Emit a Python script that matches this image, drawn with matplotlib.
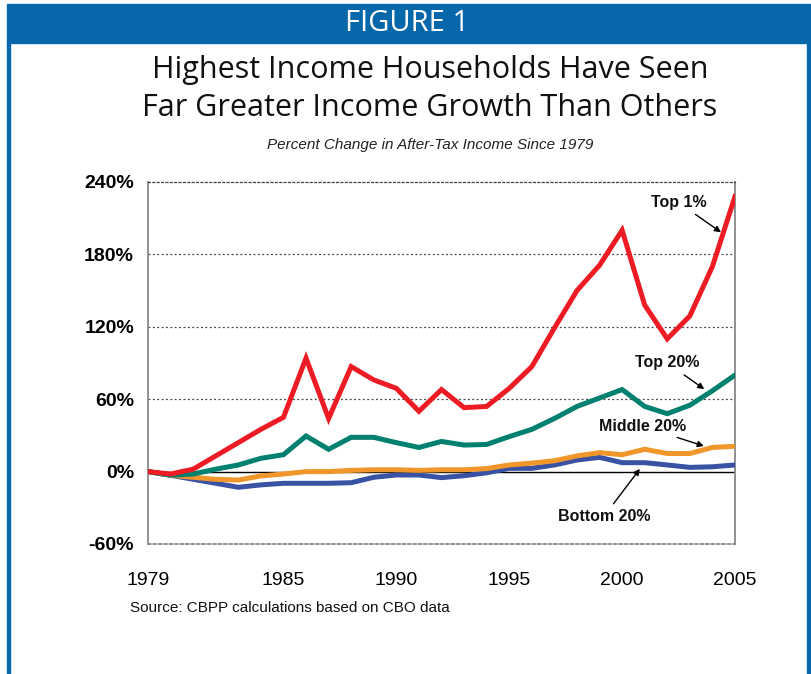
import matplotlib
matplotlib.use("Agg")
import matplotlib.pyplot as plt
from matplotlib.patches import Rectangle

# values (percent change since 1979)
years = list(range(1979, 2006))
top1 = [0, -2, 2, 13, 24, 35, 45, 94, 44, 87, 76, 69, 50, 68, 53, 54,
        69, 87, 119, 150, 171, 200, 138, 110, 129, 170, 228]
top20 = [0, -3, -2, 2, 5.5, 11, 14, 29.5, 18.5, 28.4, 28.4, 24, 20, 25, 22, 22.5,
         29, 35, 44, 54, 61, 68, 54, 48, 55, 67, 80]
middle20 = [0, -3, -4.7, -6.4, -7, -3.6, -2, 0, 0, 1, 1.5, 1.5, 1, 1.5, 1.5, 2.5,
            5.5, 7, 9, 13, 15.7, 14, 18.5, 15, 15, 20, 21]
bottom20 = [0, -3, -6.4, -9.7, -13, -11, -9.7, -9.7, -9.7, -9.2, -4.7, -2.8, -2.8, -5, -3.4, -1,
            2.7, 2.7, 5.5, 9.6, 11.8, 7.4, 7.4, 5.5, 3.5, 4, 5.5]

yticks = [-60, 0, 60, 120, 180, 240]
xticks = [1979, 1985, 1990, 1995, 2000, 2005]

RED = "#ED1C24"
TEAL = "#00806E"
ORANGE = "#F0962A"
BLUE = "#3A52A4"
FRAME = "#0767AB"

fig = plt.figure(figsize=(8.12, 6.74), dpi=100)
W, H = 812, 674


def fx(px):
    return px / W


def fy(py):
    return 1 - py / H


# header bar and blue frame
fig.patches.append(Rectangle((fx(7), fy(43)), fx(805), 39 / H, transform=fig.transFigure,
                             color=FRAME, zorder=0))
fig.patches.append(Rectangle((fx(7), 0), fx(3), fy(43), transform=fig.transFigure,
                             color=FRAME, zorder=0))
fig.patches.append(Rectangle((fx(807), 0), fx(3), fy(43), transform=fig.transFigure,
                             color=FRAME, zorder=0))
fig.text(fx(407), fy(23.5), "FIGURE 1", color="white", fontsize=21, fontweight="medium",
         family="Open Sans", fontstretch="semi-condensed", ha="center", va="center")

fig.text(fx(430), fy(70), "Highest Income Households Have Seen", fontsize=22,
         family="Open Sans", ha="center", va="center", color="#111111")
fig.text(fx(430), fy(108), "Far Greater Income Growth Than Others", fontsize=22,
         family="Open Sans", ha="center", va="center", color="#111111")
fig.text(fx(430), fy(145), "Percent Change in After-Tax Income Since 1979", fontsize=11,
         family="Liberation Sans", style="italic", ha="center", va="center", color="#222222")

ax = fig.add_axes([fx(148), fy(544), fx(735 - 148), (544 - 182) / H])

ax.plot(years, bottom20, color=BLUE, lw=3.6, solid_joinstyle="miter", zorder=3)
ax.plot(years, middle20, color=ORANGE, lw=3.6, solid_joinstyle="miter", zorder=4)
ax.plot(years, top20, color=TEAL, lw=3.6, solid_joinstyle="miter", zorder=5)
ax.plot(years, top1, color=RED, lw=3.6, solid_joinstyle="miter", zorder=6)

ax.set_xlim(1979, 2005)
ax.set_ylim(-60, 240)
ax.set_xticks(xticks)
ax.set_yticks(yticks)
ax.set_yticklabels([f"{v}%" for v in yticks], fontsize=14, fontweight="bold",
                   family="Liberation Sans")
ax.set_xticklabels([str(v) for v in xticks], fontsize=14, family="Liberation Sans")
ax.tick_params(length=0)
ax.tick_params(axis="y", pad=10)
ax.tick_params(axis="x", pad=20)

for v in [60, 120, 180]:
    ax.axhline(v, color="#444444", lw=0.9, ls=(0, (1.5, 2)), zorder=1)
ax.axhline(0, color="black", lw=1.0, zorder=2)

for s in ["left", "right"]:
    ax.spines[s].set_color("#888888")
    ax.spines[s].set_linewidth(1.3)
ax.spines["top"].set_linestyle((0, (1.5, 2)))
ax.spines["top"].set_color("#444444")
ax.spines["top"].set_linewidth(0.9)
ax.spines["bottom"].set_linestyle((0, (1.5, 1.5)))
ax.spines["bottom"].set_color("#888888")
ax.spines["bottom"].set_linewidth(1.3)

lab = dict(fontsize=11.5, fontweight="bold", family="Liberation Sans", ha="center",
           va="center", color="#111111")
arr = dict(arrowstyle="-|>", color="black", lw=1.0, mutation_scale=9)
ax.annotate("Top 1%", xy=(2004.48, 197), xytext=(2002.5, 223), arrowprops=arr, **lab)
ax.annotate("Top 20%", xy=(2003.74, 67), xytext=(2002.0, 90), arrowprops=arr, **lab)
ax.annotate("Middle 20%", xy=(2003.74, 20.5), xytext=(2000.9, 37.5), arrowprops=arr, **lab)
ax.annotate("Bottom 20%", xy=(2000.86, 4.1), xytext=(1999.2, -37), arrowprops=arr, **lab)

fig.text(fx(130), fy(608), "Source: CBPP calculations based on CBO data", fontsize=11,
         family="Liberation Sans", ha="left", va="center", color="#111111")

fig.savefig("out.png", dpi=100)
